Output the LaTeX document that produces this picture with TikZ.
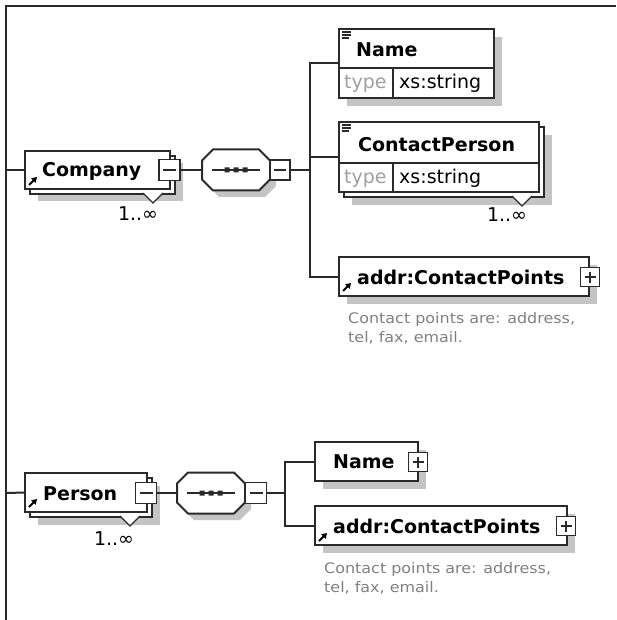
\documentclass[tikz,border=0pt]{standalone}
\usepackage{fontspec}
\setmainfont{DejaVu Sans}
\newfontfamily\descfont{DejaVu Sans}[FakeStretch=1.1]
\usetikzlibrary{arrows.meta,calc}
\definecolor{ln}{HTML}{2A2A2A}
\definecolor{shc}{HTML}{C4C4C4}
\definecolor{typec}{HTML}{A0A0A0}
\definecolor{descc}{HTML}{808080}
\tikzset{
  frame/.style={draw=ln, line width=2.2pt},
  conn/.style={draw=ln, line width=2pt},
  elbox/.style={draw=ln, line width=2pt, fill=white, inner sep=0pt, outer sep=0pt, anchor=north west},
  backbox/.style={draw=ln, line width=2pt, fill=white},
  shad/.style={fill=shc},
  notch/.style={draw=ln, line width=1.4pt, fill=white},
  divline/.style={draw=ln, line width=1.4pt},
  btxt/.style={font=\fontsize{19}{22}\selectfont\bfseries, inner sep=0pt, anchor=base west},
  rtxt/.style={font=\fontsize{19}{22}\selectfont, inner sep=0pt, anchor=base west},
  ttxt/.style={rtxt, text=typec},
  dtxt/.style={font=\descfont\fontsize{14.5}{19}\selectfont, text=descc, inner sep=0pt, anchor=base west},
  multtxt/.style={font=\fontsize{19}{22}\selectfont, inner sep=0pt, anchor=base},
  pmbox/.style={draw=ln, line width=1.6pt, fill=white, minimum size=#1, inner sep=0pt, outer sep=0pt},
  refarrow/.style={draw=black, line width=2pt, -{Triangle[length=5pt,width=6pt]}},
  seqbox/.style={inner sep=0pt, outer sep=0pt, anchor=north west},
  octline/.style={draw=ln, line width=2pt, fill=white},
  iconline/.style={draw=ln, line width=1.1pt},
}
\newcommand\xminus[1]{\draw[ln, line width=1.4pt] ([xshift=4pt]#1.west) -- ([xshift=-4pt]#1.east);}
\newcommand\xplus[1]{\xminus{#1}\draw[ln, line width=1.4pt] ([yshift=-4pt]#1.north) -- ([yshift=4pt]#1.south);}
\newcommand\octpath[4]{({#1+11},{#2}) -- ({#3-11},{#2}) -- ({#3},{#2+11}) -- ({#3},{#4-11}) -- ({#3-11},{#4}) -- ({#1+11},{#4}) -- ({#1},{#4-11}) -- ({#1},{#2+11}) -- cycle}
\newcommand\seqdots[2]{\fill[ln] ({#1-11.5},{#2-2.5}) rectangle ({#1-6.5},{#2+2.5}) ({#1-2.5},{#2-2.5}) rectangle ({#1+2.5},{#2+2.5}) ({#1+6.5},{#2-2.5}) rectangle ({#1+11.5},{#2+2.5});}
\begin{document}
\begin{tikzpicture}[x=1pt,y=-1pt]
\useasboundingbox (0,0) rectangle (616,620);
\draw[frame] (6,620) -- (6,6) -- (616,6);

% ---------- Company ----------
\fill[shad] (38,163) rectangle (183,201);
\draw[backbox] (30,156) rectangle (175,194);
\draw[notch] (143,193) -- (153,203) -- (163,193);
\node[elbox, minimum width=145pt, minimum height=38pt] (company) at (25,151) {};
\node[btxt] (companyt) at (42,176.5) {Company};
\draw[refarrow] (29,185) -- (37,177);
\node[pmbox=21pt] (cmin) at (169.5,170) {};
\xminus{cmin}
\node[multtxt] (cmult) at (138,221) {1..∞};

% sequence 1
\fill[shad] \octpath{208}{156}{276}{197};
\draw[octline] \octpath{202}{149.5}{270}{190.5};
\node[seqbox, minimum width=68pt, minimum height=41pt] (seq1) at (202,149.5) {};
\draw[ln, line width=1.6pt] (212,170) -- (260,170);
\seqdots{236}{170}
\node[pmbox=20pt] (s1min) at (280,170) {};
\xminus{s1min}

% Name (top)
\fill[shad] (347,37) rectangle (502,106);
\node[elbox, minimum width=155pt, minimum height=69pt] (name1) at (339,29) {};
\draw[divline] (339,68) -- (494,68) (393,68) -- (393,98);
\draw[iconline] (342,32) -- (351,32) (342,35) -- (351,35) (342,38) -- (349,38);
\node[btxt] (name1t) at (356,57) {Name};
\node[ttxt] (name1type) at (344,89) {type};
\node[rtxt] (name1val) at (399,89) {xs:string};

% ContactPerson
\fill[shad] (352,135) rectangle (552,205);
\draw[backbox] (344,127) rectangle (544,197);
\draw[notch] (512,196) -- (522,206) -- (532,196);
\node[elbox, minimum width=200pt, minimum height=70pt] (cp) at (339,122) {};
\draw[divline] (339,163) -- (539,163) (393,163) -- (393,192);
\draw[iconline] (342,125) -- (351,125) (342,128) -- (351,128) (342,131) -- (349,131);
\node[btxt] (cpt) at (358,152) {ContactPerson};
\node[ttxt] (cptype) at (344,184) {type};
\node[rtxt] (cpval) at (399,184) {xs:string};
\node[multtxt] (cpmult) at (507,222) {1..∞};

% addr:ContactPoints (top)
\fill[shad] (347,265) rectangle (597,304);
\node[elbox, minimum width=250pt, minimum height=39pt] (addr1) at (339,257) {};
\node[btxt] (addr1t) at (357,284) {addr:ContactPoints};
\draw[refarrow] (343,291) -- (351,283);
\node[pmbox=19pt] (a1plus) at (590,277) {};
\xplus{a1plus}
\node[dtxt] (a1d1) at (348,323) {Contact points are: address,};
\node[dtxt] (a1d2) at (348,342) {tel, fax, email.};

% connectors (top)
\coordinate (b1) at (310,170);
\draw[conn] (6,170) -- (company.west);
\draw[conn] (cmin.east) -- (seq1.west);
\draw[conn] (s1min.east) -- (b1);
\draw[conn] (name1.west) -| (b1) |- (addr1.west);
\draw[conn] (b1 |- cp.west) -- (cp.west);

% ---------- Person ----------
\fill[shad] (38,486) rectangle (160,525);
\draw[backbox] (30,478) rectangle (152,517);
\draw[notch] (120,516) -- (130,526) -- (140,516);
\node[elbox, minimum width=122pt, minimum height=39pt] (person) at (25,473) {};
\node[btxt] (persont) at (43,500) {Person};
\draw[refarrow] (29,507) -- (37,499);
\node[pmbox=21pt] (pmin) at (146,493) {};
\xminus{pmin}
\node[multtxt] (pmult) at (114,545) {1..∞};

% sequence 2
\fill[shad] \octpath{183}{479}{251}{520};
\draw[octline] \octpath{177}{472.5}{245}{513.5};
\node[seqbox, minimum width=68pt, minimum height=41pt] (seq2) at (177,472.5) {};
\draw[ln, line width=1.6pt] (187,493) -- (235,493);
\seqdots{211}{493}
\node[pmbox=21pt] (s2min) at (256,493) {};
\xminus{s2min}

% Name (person)
\fill[shad] (323,450) rectangle (426,489);
\node[elbox, minimum width=103pt, minimum height=39pt] (name2) at (315,442) {};
\node[btxt] (name2t) at (333,468) {Name};
\node[pmbox=19pt] (n2plus) at (418,462) {};
\xplus{n2plus}

% addr:ContactPoints (person)
\fill[shad] (323,514) rectangle (575,553);
\node[elbox, minimum width=252pt, minimum height=39pt] (addr2) at (315,506) {};
\node[btxt] (addr2t) at (333,533) {addr:ContactPoints};
\draw[refarrow] (319,541) -- (327,533);
\node[pmbox=19pt] (a2plus) at (566,526) {};
\xplus{a2plus}
\node[dtxt] (a2d1) at (324,573) {Contact points are: address,};
\node[dtxt] (a2d2) at (324,592) {tel, fax, email.};

% connectors (person)
\coordinate (b2) at (285,493);
\draw[conn] (6,493) -- (person.west);
\draw[conn] (pmin.east) -- (seq2.west);
\draw[conn] (s2min.east) -- (b2);
\draw[conn] (name2.west) -| (b2) |- (addr2.west);
\end{tikzpicture}
\end{document}
